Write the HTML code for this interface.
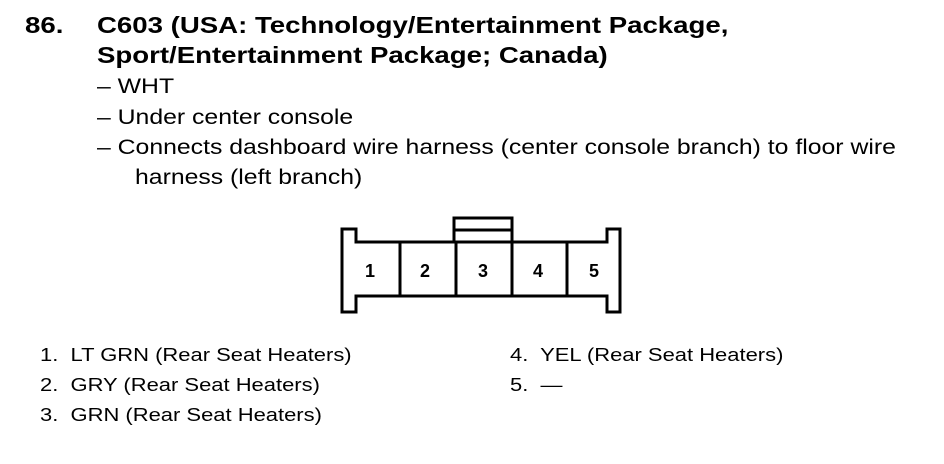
<!DOCTYPE html>
<html><head><style>
body{margin:0;width:944px;height:464px;background:#fff;position:relative;font-family:"Liberation Sans",Arial,sans-serif;color:#000;overflow:hidden}
.t{position:absolute;white-space:nowrap;transform-origin:0 0}
.h{font-weight:bold;font-size:23px;transform:scaleX(1.2)}
.b{font-size:21px;transform:scaleX(1.18)}
.l{font-size:18px;transform:scaleX(1.22)}
</style></head><body>
<div class="t h" style="left:25px;top:12px">86.</div>
<div class="t h" style="left:97px;top:12px">C603 (USA: Technology/Entertainment Package,</div>
<div class="t h" style="left:97px;top:42px">Sport/Entertainment Package; Canada)</div>
<div class="t b" style="left:97px;top:75px">– WHT</div>
<div class="t b" style="left:97px;top:106px">– Under center console</div>
<div class="t b" style="left:97px;top:136px">– Connects dashboard wire harness (center console branch) to floor wire</div>
<div class="t b" style="left:135px;top:166px">harness (left branch)</div>
<svg style="position:absolute;left:0;top:0" width="944" height="464">
<g fill="none" stroke="#000" stroke-width="3">
<path d="M342,229 H356 V242 H607 V229 H620 V312 H607 V296 H356 V312 H342 Z"/>
<rect x="454" y="218" width="58" height="24"/>
<line x1="454" y1="230" x2="512" y2="230"/>
<line x1="400" y1="242" x2="400" y2="296"/>
<line x1="456" y1="242" x2="456" y2="296"/>
<line x1="512" y1="242" x2="512" y2="296"/>
<line x1="567" y1="242" x2="567" y2="296"/>
</g>
<g font-family="Liberation Sans,Arial,sans-serif" font-weight="bold" font-size="18" text-anchor="middle">
<text x="370" y="277">1</text><text x="425" y="277">2</text><text x="483" y="277">3</text><text x="538" y="277">4</text><text x="594" y="277">5</text>
</g>
</svg>
<div class="t l" style="left:40px;top:345px">1.&nbsp; LT GRN (Rear Seat Heaters)</div>
<div class="t l" style="left:40px;top:375px">2.&nbsp; GRY (Rear Seat Heaters)</div>
<div class="t l" style="left:40px;top:405px">3.&nbsp; GRN (Rear Seat Heaters)</div>
<div class="t l" style="left:510px;top:345px">4.&nbsp; YEL (Rear Seat Heaters)</div>
<div class="t l" style="left:510px;top:375px">5.&nbsp; —</div>
</body></html>
